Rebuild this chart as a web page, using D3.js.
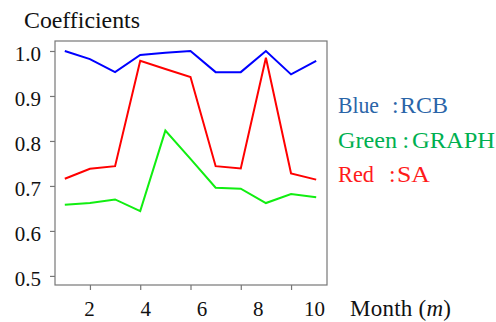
<!DOCTYPE html>
<meta charset="utf-8">
<head>
    <title>Coefficients</title>
</head>
<style>
    body { margin: 0; background: #fff; }
    text { font-family: "Liberation Serif", "DejaVu Serif", serif; fill: #111; }
</style>
<div id="graph_div"></div>
<script src="https://d3js.org/d3.v7.min.js"></script>
<script>
    // data, months 1..11
    var months = [1, 2, 3, 4, 5, 6, 7, 8, 9, 10, 11];
    var rcb   = [1.0, 0.982, 0.953, 0.991, 0.996, 1.0, 0.953, 0.953, 1.0, 0.948, 0.978];
    var graph = [0.658, 0.662, 0.670, 0.644, 0.823, 0.760, 0.696, 0.694, 0.662, 0.682, 0.675];
    var sa    = [0.716, 0.738, 0.744, 0.978, 0.960, 0.942, 0.744, 0.739, 0.985, 0.728, 0.714];
    var xTicks = [2, 4, 6, 8, 10];
    var yTicks = [0.5, 0.6, 0.7, 0.8, 0.9, 1.0];
    var legendNames = ["Blue", "Green", "Red"];
    var legendMethods = ["RCB", "GRAPH", "SA"];

    var margin = {top: 41, right: 169, bottom: 37, left: 55},
        width = 496 - margin.left - margin.right,
        height = 322 - margin.top - margin.bottom;

    var svg = d3.select("#graph_div")
      .append("svg")
        .attr("width", 496)
        .attr("height", 322)
      .append("g")
        .attr("transform", "translate(" + margin.left + "," + margin.top + ")");

    var x = d3.scaleLinear().domain([0.61, 11.43]).range([0, width]);
    var y = d3.scaleLinear().domain([0.4798, 1.0222]).range([height, 0]);
    // the month labels in the picture sit a bit wider apart than the ticks
    var xLab = d3.scaleLinear().domain([2, 10]).range([34, 259]);

    svg.append("rect")
        .attr("width", width)
        .attr("height", height)
        .attr("fill", "none")
        .attr("stroke", "#777")
        .attr("stroke-width", 1.2);

    var xAxis = svg.append("g")
        .attr("transform", "translate(0," + height + ")")
        .call(d3.axisBottom(x).tickValues(xTicks).tickSize(5).tickFormat(""));
    var xLabels = svg.append("g")
        .attr("transform", "translate(0," + height + ")")
        .call(d3.axisBottom(xLab).tickValues(xTicks).tickSize(0).tickPadding(16.5).tickFormat(d3.format("d")));
    var yAxis = svg.append("g")
        .call(d3.axisLeft(y).tickValues(yTicks).tickSize(5).tickPadding(9).tickFormat(d3.format(".1f")));
    xLabels.selectAll("line").remove();

    [xAxis, xLabels, yAxis].forEach(function(a) {
      a.select(".domain").remove();
      a.selectAll("line").attr("stroke", "#777").attr("stroke-width", 1.2);
      a.selectAll("text").attr("font-size", 21).attr("fill", "#111")
        .attr("font-family", "Liberation Serif, serif");
    });
    yAxis.selectAll("text").attr("dy", "0.44em");

    var line = d3.line()
        .x(function(d, i) { return x(months[i]); })
        .y(function(d) { return y(d); });

    [[sa, "#ff0000"], [graph, "#11ee11"], [rcb, "#0000ff"]].forEach(function(s) {
      svg.append("path")
        .datum(s[0])
        .attr("fill", "none")
        .attr("stroke", s[1])
        .attr("stroke-width", 2)
        .attr("d", line);
    });

    svg.append("text")
        .attr("x", -31)
        .attr("y", -13)
        .attr("font-size", 23)
        .attr("textLength", 116)
        .attr("lengthAdjust", "spacingAndGlyphs")
        .text("Coefficients");
    svg.append("text")
        .attr("x", 295)
        .attr("y", height + 30.5)
        .attr("font-size", 23)
        .attr("textLength", 101)
        .html("Month (<tspan font-style='italic'>m</tspan>)");

    // legend: colour name, colon, method (x inside the plot group)
    var legendColors = ["#2a65a8", "#00b050", "#ff1a1a"];
    var colonX = [337, 347.5, 334],
        methodX = [345, 357, 342],
        methodW = [48, 83, 33],
        nameW = [41, 59, 36];
    legendNames.forEach(function(n, i) {
      var g = svg.append("g")
          .attr("transform", "translate(0," + (72 + i * 34.5) + ")");
      g.append("text").attr("x", 283).attr("font-size", 23.5)
          .attr("textLength", nameW[i]).attr("lengthAdjust", "spacingAndGlyphs")
          .style("fill", legendColors[i]).text(n);
      g.append("text").attr("x", colonX[i]).attr("font-size", 23.5)
          .style("fill", legendColors[i]).text(":");
      g.append("text").attr("x", methodX[i]).attr("font-size", 23.5)
          .attr("textLength", methodW[i]).attr("lengthAdjust", "spacingAndGlyphs")
          .style("fill", legendColors[i]).text(legendMethods[i]);
    });
</script>
